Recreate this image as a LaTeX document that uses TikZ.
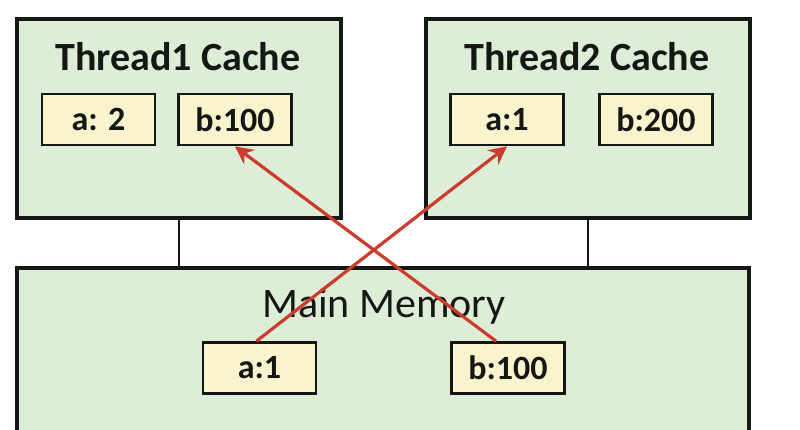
\documentclass[tikz,border=0pt]{standalone}
\usepackage{fontspec}
\setmainfont{Carlito}
\usetikzlibrary{arrows.meta}
\definecolor{cachegreen}{RGB}{221,237,216}
\definecolor{cellyellow}{RGB}{250,244,206}
\definecolor{arrowred}{RGB}{204,60,45}
\definecolor{ink}{RGB}{20,24,20}
\tikzset{
  x=1pt, y=-1pt,
  panel/.style={draw=ink, line width=3.2pt, fill=cachegreen, minimum width=324pt, inner sep=0pt},
  cell/.style={draw=ink, line width=2.8pt, fill=cellyellow, minimum width=113pt, minimum height=51pt, inner sep=0pt, text=ink, font=\fontsize{34}{36}\selectfont\bfseries},
  paneltitle/.style={inner sep=0pt, text=ink, font=\fontsize{40}{44}\selectfont\bfseries},
  link/.style={draw=ink, line width=2.2pt},
  move/.style={draw=arrowred, line width=3.2pt, -{Stealth[length=18pt,width=18pt,inset=6pt]}}
}
\begin{document}
\begin{tikzpicture}
\clip (0,0) rectangle (800,429);
\fill[white] (0,0) rectangle (800,429);

% cache and memory panels
\node[panel, minimum height=199pt] (t1) at (179,118.5) {};
\node[panel, minimum height=199pt] (t2) at (588,118.5) {};
\node[panel, minimum width=732pt, minimum height=200pt] (mm) at (383,368) {};

% bus lines
\draw[link] (t1.south) -- (t1.south |- mm.north);
\draw[link] (t2.south) -- (t2.south |- mm.north);

% titles
\node[paneltitle] (t1title) at (178,57) {Thread1 Cache};
\node[paneltitle] (t2title) at (587,57) {Thread2 Cache};
\node[inner sep=0pt, text=ink, font=\fontsize{42}{46}\selectfont] (mmtitle) at (384,306) {Main Memory};

% cells
\node[cell] (t1a) at (98.5,119.5) {a: 2};
\node[cell] (t1b) at (235,119.5) {b:100};
\node[cell] (t2a) at (507,119.5) {a:1};
\node[cell] (t2b) at (656,119.5) {b:200};
\node[cell] (ma) at (259.5,368) {a:1};
\node[cell] (mb) at (508,368) {b:100};

% loads into the caches
\draw[move] ([xshift=-3pt]ma.north) -- (t2a.south);
\draw[move] ([xshift=-12pt]mb.north) -- (t1b.south);
\end{tikzpicture}
\end{document}
